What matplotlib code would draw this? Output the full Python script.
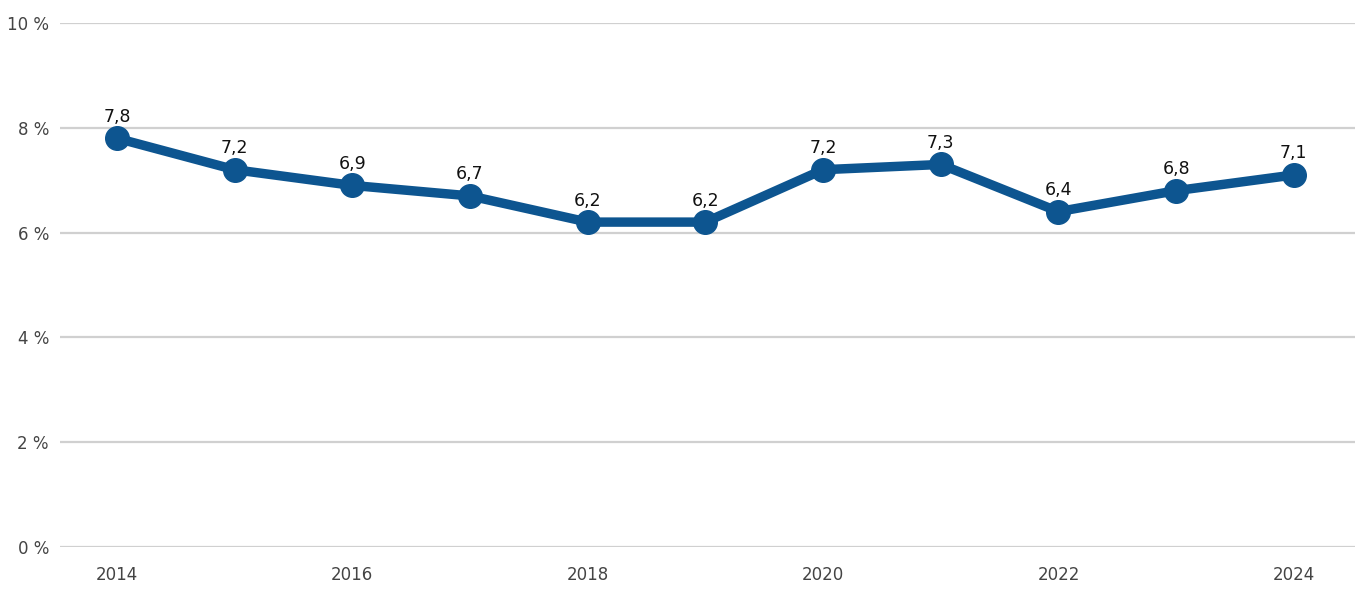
import matplotlib
matplotlib.use("Agg")
import matplotlib.pyplot as plt
from matplotlib.ticker import FuncFormatter

years = [2014, 2015, 2016, 2017, 2018, 2019, 2020, 2021, 2022, 2023, 2024]
values = [7.8, 7.2, 6.9, 6.7, 6.2, 6.2, 7.2, 7.3, 6.4, 6.8, 7.1]
y_ticks = [0, 2, 4, 6, 8, 10]
x_ticks = [2014, 2016, 2018, 2020, 2022, 2024]

line_color = '#0d5590'

fig = plt.figure(figsize=(13.68, 5.97), dpi=100)
ax = fig.add_axes([0.0439, 0.0838, 0.9466, 0.8777])

ax.plot(years, values, color=line_color, linewidth=6.8, marker='o',
        markersize=17, zorder=3, solid_capstyle='round')

for x, v in zip(years, values):
    ax.annotate(f'{v:.1f}'.replace('.', ','), (x, v), xytext=(0, 9),
                textcoords='offset points', ha='center', va='bottom',
                fontsize=12.5, color='#111111', zorder=4)

ax.set_xlim(2013.516, 2024.52)
ax.set_ylim(0, 10)
ax.set_yticks(y_ticks)
ax.set_xticks(x_ticks)
ax.yaxis.set_major_formatter(FuncFormatter(lambda v, p: f'{int(v)} %'))

ax.grid(axis='y', color='#d0d0d0', linewidth=1.6)
ax.set_axisbelow(True)
for s in ax.spines.values():
    s.set_visible(False)
ax.tick_params(axis='both', length=0, labelsize=12, labelcolor='#444444')
ax.tick_params(axis='y', pad=8)
ax.tick_params(axis='x', pad=14)

fig.savefig('out.png', dpi=100)
